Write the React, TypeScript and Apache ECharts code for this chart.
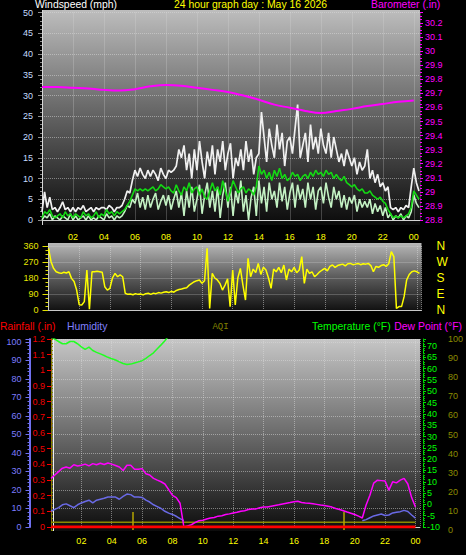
import React, { useEffect, useRef } from 'react';
import * as echarts from 'echarts';

// ---------- texts ----------
const chartTitle = '24 hour graph day : May 16 2026';
const windTitle = 'Windspeed (mph)';
const baroTitle = 'Barometer (.in)';
const rainTitle = 'Rainfall (.in)';
const humTitle = 'Humidity';
const aqiTitle = 'AQI';
const tempTitle = 'Temperature (°F)';
const dewTitle = 'Dew Point (°F)';
const compassLabels: Record<number, string> = { 0: 'N', 90: 'E', 180: 'S', 270: 'W', 360: 'N' };

// ---------- top panel: 10-minute samples from 00:00 ----------
const gustMph = [
  2, 6.8, 3, 5.5, 2.5, 3,
  2, 3, 4.4, 2.5, 3, 2,
  3, 2, 3, 2.5, 3.5, 2,
  2.5, 3, 2, 3, 2.5, 3,
  3, 2.5, 3.5, 3, 2, 3,
  3, 3.5, 5, 7, 6.5, 9.5,
  12, 10.5, 12.5, 11, 10, 12,
  10.5, 12, 11, 9.5, 12.5, 11,
  10, 12, 11.5, 12, 13, 17,
  15, 18, 12, 16, 10, 17,
  12, 19, 14, 10, 16.5, 13,
  18, 11, 17, 14, 19, 12,
  16, 18.5, 10, 15, 13, 17,
  12, 19, 14, 17, 11, 15,
  16, 26, 20, 14, 22, 18,
  15, 23, 17, 21, 13, 19,
  20, 16, 22, 27.8, 15, 18,
  21, 14, 23, 17, 20, 16,
  22, 18, 16, 21, 15, 20,
  17, 14, 16, 13, 17, 15,
  13, 15, 11, 14, 12, 13,
  17, 10, 12, 9, 11, 8,
  9, 7, 8, 3, 2.5, 3,
  2, 3, 2.5, 3.5, 3, 8,
  12.5, 9, 7,
];
const speedMph = [
  0, 1, 0.5, 1.5, 0, 1,
  0.5, 0, 1, 0.5, 0, 1.5,
  0, 1, 0, 0.5, 1, 0,
  1, 0, 0.5, 0, 1, 0.5,
  0, 1.5, 0.5, 1, 0, 1,
  0.5, 1, 2, 3.5, 3, 5,
  4, 6.5, 3, 5.5, 2.5, 6,
  3, 5, 6.5, 2.5, 4.5, 6,
  3.5, 6, 2.5, 5, 7, 3,
  6.5, 1, 7, 3, 8, 2,
  5, 8.5, 1.5, 6, 9, 3,
  7, 2, 8, 0.5, 6, 9,
  3, 8, 1, 7, 4, 9.5,
  2, 6, 0, 5.5, 8, 1,
  9.5, 4, 8, 2, 9, 5,
  7, 3, 9, 4.5, 8, 2.5,
  6.5, 9, 3, 8.5, 5, 7.5,
  3, 9, 5, 8, 2.5, 7,
  8, 4, 9, 5.5, 3, 8,
  5, 7, 3, 6, 2.5, 5.5,
  4, 6, 2, 5, 3, 4.5,
  3, 5, 1.5, 4, 2, 3.5,
  1, 3, 0.5, 1.5, 0, 1,
  0.5, 1.5, 0, 1, 0.5, 2,
  6, 4, 3,
];
const avgMph = [
  0.5, 2, 1.5, 2.5, 1, 0.5,
  1, 1.5, 0.5, 2, 1, 1.5,
  0.5, 1.5, 1, 0.5, 2, 1,
  1.5, 0.5, 1, 2, 0.5, 1.5,
  1, 2.5, 1.5, 2, 1, 2,
  1.5, 2, 2.5, 3.5, 4.5, 6,
  7.5, 7, 7.5, 7, 7.5, 7,
  7.5, 8, 7, 7.5, 8.5, 8,
  7.5, 8, 7, 6.5, 8.5, 7,
  6, 8, 7, 9, 6.5, 7.5,
  8, 6, 7.5, 5.5, 5, 7,
  9, 7, 8, 6, 9.5, 7,
  4.5, 7, 9.5, 8, 6.5, 7.5,
  8, 6.5, 7.5, 7, 6, 8,
  13, 11, 12, 10, 11.5, 9.5,
  12, 10.5, 12.5, 10, 11, 9.5,
  10, 11.5, 10.5, 11, 9.5, 10.5,
  11, 10, 11.5, 10.5, 12, 11,
  11.5, 10.5, 12, 11, 11.5, 10,
  11, 10, 9.5, 10.5, 9, 8.5,
  8, 8.5, 7.5, 7, 7.5, 6.5,
  6.5, 7, 6, 5.5, 5, 5.5,
  4.5, 4, 2.5, 1.5, 0.5, 1,
  0.5, 1, 0.5, 1, 1.5, 3,
  7, 6, 5,
];
// hourly barometer, 00:00 .. 24:00
const baroInHg = [
  29.745, 29.745, 29.74, 29.735, 29.725, 29.72, 29.73, 29.75, 29.76, 29.755,
  29.74, 29.725, 29.71, 29.685, 29.655, 29.62, 29.598, 29.575, 29.56, 29.575,
  29.59, 29.61, 29.625, 29.64, 29.65,
];

// ---------- wind direction: 10-minute samples ----------
const windDirDeg = [
  347, 272, 234, 215, 210, 206,
  212, 208, 215, 178, 160, 112,
  30, 28, 47, 225, 5, 215,
  215, 218, 215, 212, 131, 112,
  122, 180, 206, 187, 197, 187,
  94, 88, 90, 86, 92, 88,
  90, 85, 92, 94, 88, 95,
  92, 98, 95, 100, 103, 98,
  105, 100, 110, 115, 118, 122,
  125, 140, 150, 159, 165, 169,
  150, 165, 347, 9, 206, 180,
  169, 150, 112, 140, 175, 19,
  225, 28, 180, 234, 140, 56,
  291, 187, 230, 210, 262, 200,
  240, 225, 180, 122, 230, 215,
  240, 210, 253, 169, 230, 215,
  240, 210, 225, 300, 150, 230,
  206, 215, 187, 200, 215, 225,
  234, 220, 245, 253, 240, 250,
  255, 258, 248, 260, 262, 255,
  258, 262, 255, 260, 258, 262,
  250, 215, 245, 240, 250, 255,
  245, 260, 328, 300, 9, 19,
  19, 75, 169, 200, 215, 220,
  215, 206,
];

// ---------- bottom panel: 15-minute samples ----------
const tempF = [
  74, 73, 72, 71, 71, 72, 72, 71,
  69.6, 68.5, 69.5, 68, 67.2, 66.5, 65.8, 65,
  64.4, 63.8, 63, 62.3, 61.8, 62, 62.5, 63,
  63.5, 64.5, 65.8, 67, 68.8, 70.5, 72.3, 74.5,
];
const dewPointF = [
  11.5, 13, 14.5, 16, 16.5, 16, 17.5, 17,
  17.3, 17.8, 17, 18, 17.5, 18.2, 17.6, 18.3,
  17.8, 17.2, 16.5, 15, 17.3, 17.3, 15.5, 15.5,
  15.8, 13.5, 13, 11.5, 10.7, 10, 9, 6.5,
  4, 3, 0.5, -10, -9.5, -9, -8, -7.2,
  -7, -6.5, -6, -5.8, -5.2, -5, -4.5, -4.2,
  -3.8, -3.5, -3, -2.8, -2.3, -2, -2, -1.5,
  -1.2, -1.2, -0.8, -0.5, -0.2, 0.2, 0.5, 0.8,
  1.2, 1.4, 0.8, 0.6, 0.5, 0.3, 0, -0.3,
  -0.5, -0.8, -1.2, -1.8, -2.3, -2.8, -3.4, -3.9,
  -4.5, -5.2, -6, -0.3, 4, 9.4, 10.7, 10.5,
  10.3, 6.3, 10, 9.5, 10.7, 11.5, 9, 3,
  -1.2,
];
const humidityPct = [
  8.5, 9.5, 10.5, 12, 12.5, 11.5, 10.5, 12,
  13, 13.8, 14.5, 13, 14.5, 15, 15.5, 16.2,
  16.2, 16.2, 15, 16.5, 17.8, 17.5, 16.2, 16.2,
  16, 14.5, 13.5, 12, 11, 10, 8.5, 7.5,
  6.8, 5.8, 4.5, 3.4, null, null, null, null,
  null, null, null, null, null, null, null, null,
  null, null, null, null, null, null, null, null,
  null, null, null, null, null, null, null, null,
  null, null, null, null, null, null, null, null,
  null, null, null, null, null, null, null, null,
  null, null, 3.4, 4, 5, 6, 6.5, 7,
  6.2, 6.5, 7.6, 8, 8.3, 9, 8.4, 6.5,
  4.8,
];
// hourly
const rainIn = [0, 0, 0, 0, 0, 0, 0, 0, 0, 0, 0, 0, 0, 0, 0, 0, 0, 0, 0, 0, 0, 0, 0, 0, 0];
const aqiIndex = [4, 4, 4, 4, 4, 4, 4, 4, 4, 4, 4, 4, 4, 4, 4, 4, 4, 4, 4, 4, 4, 4, 4, 4, 4];
const sunEventHours = [5.4, 19.3];
const sunMarkAqi = 9.4;

// ---------- helpers ----------
const FONT = "'Liberation Sans', Arial, sans-serif";
const every = (arr: (number | null)[], step: number) => arr.map((v, i) => [i * step, v]);
const pad2 = (n: number) => (n < 10 ? '0' : '') + n;
const hourLabel = (v: number) => {
  const r = Math.round(v);
  if (Math.abs(v - r) > 1e-6 || r <= 0 || r > 24 || r % 2) return '';
  return pad2(r % 24);
};
const multipleLabel = (step: number, dec: number) => (v: number) => {
  const k = Math.round(v / step);
  if (Math.abs(v / step - k) > 1e-6) return '';
  return String(Number((k * step).toFixed(dec)));
};
const dotted = { show: true, lineStyle: { color: 'rgba(220,220,220,0.5)', type: 'dotted' as const, width: 1 } };
const grad = (stops: [number, string][]) =>
  new echarts.graphic.LinearGradient(0, 0, 0, 1, stops.map(([offset, color]) => ({ offset, color })));

function buildOption(): any {
  const line = (name: string, data: any[], xi: number, yi: number, color: string, width: number, z: number, extra: any = {}) => ({
    type: 'line', name, data, xAxisIndex: xi, yAxisIndex: yi, showSymbol: false, symbol: 'none',
    lineStyle: { color, width }, itemStyle: { color }, z, clip: true, ...extra,
  });

  const text = (t: string, x: number, y: number, fill: string, size: number, align = 'left', family = FONT) => ({
    type: 'text', x, y, z: 20, silent: true,
    style: { text: t, fill, fontSize: size, fontFamily: family, textAlign: align, textVerticalAlign: 'middle' },
  });
  const vline = (x: number, y1: number, y2: number, color: string) => ({
    type: 'line', z: 1, silent: true, shape: { x1: x, y1, x2: x, y2 }, style: { stroke: color, lineWidth: 1 },
  });

  return {
    animation: false,
    backgroundColor: '#000',
    grid: [
      { left: 42, top: 12.5, width: 378, height: 207.5 },
      { left: 48.5, top: 246, width: 373, height: 64 },
      { left: 51, top: 339, width: 369, height: 188 },
      { left: 51, top: 339, width: 369, height: 191 },
    ],
    xAxis: [
      {
        type: 'value', gridIndex: 0, min: 0, max: 24.4, interval: 2, offset: 5,
        axisLine: { show: true, lineStyle: { color: '#d4d4d4', width: 1 } },
        axisTick: { show: false }, splitLine: dotted,
        axisLabel: { color: '#ffff00', fontSize: 9, fontFamily: FONT, margin: 7, formatter: hourLabel },
      },
      {
        type: 'value', gridIndex: 1, min: 0, max: 24.3, interval: 2, offset: 1,
        axisLine: { show: true, lineStyle: { color: '#c8c8c8', width: 1 } },
        axisTick: { show: false }, splitLine: dotted, axisLabel: { show: false },
      },
      {
        type: 'value', gridIndex: 2, min: 0, max: 24.3, interval: 2, offset: 4,
        axisLine: { show: true, lineStyle: { color: '#d4d4d4', width: 1 } },
        axisTick: { show: false }, splitLine: dotted,
        axisLabel: { color: '#ffff00', fontSize: 9, fontFamily: FONT, margin: 5, formatter: hourLabel },
      },
      { type: 'value', gridIndex: 3, min: 0, max: 24.3, interval: 2, show: false },
    ],
    yAxis: [
      {
        type: 'value', gridIndex: 0, position: 'left', min: 0, max: 50, interval: 5,
        axisLine: { show: false },
        axisTick: { show: true, length: 4, lineStyle: { color: '#8c8c8c' } },
        minorTick: { show: true, splitNumber: 5, length: 2, lineStyle: { color: '#8c8c8c' } },
        axisLabel: { color: '#c4dcff', fontSize: 9, fontFamily: FONT, margin: 9 },
        splitLine: dotted,
      },
      {
        type: 'value', gridIndex: 0, position: 'right', min: 28.8, max: 30.275, interval: 0.1,
        axisLine: { show: false },
        axisTick: { show: true, length: 3, lineStyle: { color: '#ff00ff' } },
        minorTick: { show: true, splitNumber: 4, length: 2, lineStyle: { color: '#ff00ff' } },
        axisLabel: { color: '#ff00ff', fontSize: 9, fontFamily: FONT, margin: 5, formatter: multipleLabel(0.1, 1) },
        splitLine: { show: false },
      },
      {
        type: 'value', gridIndex: 1, position: 'left', min: 0, max: 360, interval: 90,
        axisLine: { show: false },
        axisTick: { show: true, length: 6, lineStyle: { color: '#e0e000' } },
        minorTick: { show: true, splitNumber: 4, length: 3, lineStyle: { color: '#e0e000' } },
        axisLabel: { color: '#e6e600', fontSize: 9, fontFamily: FONT, margin: 10 },
        splitLine: dotted,
      },
      {
        type: 'value', gridIndex: 1, position: 'right', min: 0, max: 360, interval: 90, offset: 6,
        axisLine: { show: false }, axisTick: { show: false }, splitLine: { show: false },
        axisLabel: { color: '#ffff00', fontSize: 12, fontFamily: FONT, margin: 9, formatter: (v: number) => compassLabels[v] ?? '' },
      },
      {
        type: 'value', gridIndex: 2, position: 'left', min: 0, max: 1.2, interval: 0.1,
        axisLine: { show: true, lineStyle: { color: '#ff0000', type: 'dashed', width: 1 } },
        axisTick: { show: true, length: 4, lineStyle: { color: '#ff0000' } },
        axisLabel: { color: '#f00000', fontSize: 9, fontFamily: FONT, margin: 6, formatter: multipleLabel(0.1, 1) },
        splitLine: { show: false },
      },
      {
        type: 'value', gridIndex: 2, position: 'left', offset: 21.5, min: 0, max: 101.6, interval: 10,
        axisLine: { show: true, lineStyle: { color: '#7070f0', width: 2 } },
        axisTick: { show: true, length: 4, lineStyle: { color: '#7070f0' } },
        minorTick: { show: true, splitNumber: 5, length: 2, lineStyle: { color: '#7070f0' } },
        axisLabel: { color: '#7c7cff', fontSize: 9, fontFamily: FONT, margin: 8, formatter: multipleLabel(10, 0) },
        splitLine: dotted,
      },
      {
        type: 'value', gridIndex: 2, position: 'right', offset: 3, min: -10, max: 73.1, interval: 5,
        axisLine: { show: true, lineStyle: { color: '#00e000', type: 'dashed', width: 1 } },
        axisTick: { show: true, length: 3, lineStyle: { color: '#00e000' } },
        minorTick: { show: true, splitNumber: 5, length: 2, lineStyle: { color: '#00c000' } },
        axisLabel: { color: '#00ff00', fontSize: 9, fontFamily: FONT, margin: 4, formatter: multipleLabel(5, 0) },
        splitLine: { show: false },
      },
      {
        type: 'value', gridIndex: 3, position: 'right', offset: 24, min: 0, max: 100, interval: 10,
        axisLine: { show: true, lineStyle: { color: '#808000', type: 'dotted', width: 1 } },
        axisTick: { show: true, length: 3, lineStyle: { color: '#808000' } },
        minorTick: { show: true, splitNumber: 5, length: 2, lineStyle: { color: '#808000' } },
        axisLabel: { color: '#8c8c00', fontSize: 9, fontFamily: FONT, margin: 4 },
        splitLine: { show: false },
      },
    ],
    series: [
      line('Gust', every(gustMph, 1 / 6), 0, 0, '#f0f0f0', 1.7, 2),
      line('Speed', every(speedMph, 1 / 6), 0, 0, '#c4f2c4', 1.6, 3),
      line('Average', every(avgMph, 1 / 6), 0, 0, '#14d814', 1.6, 4),
      line('Barometer', every(baroInHg, 1), 0, 1, '#ff00ff', 2, 5, { smooth: 0.4 }),
      line('Direction', every(windDirDeg, 1 / 6), 1, 2, '#ffff00', 1.5, 3),
      line('Humidity', every(humidityPct, 0.25), 2, 5, '#6a6ae6', 1.5, 3, { connectNulls: false }),
      line('Temperature', every(tempF, 0.25), 2, 6, '#22ff22', 1.5, 4),
      line('Dew Point', every(dewPointF, 0.25), 2, 6, '#ff00ff', 1.5, 4),
      line('AQI', every(aqiIndex, 1), 3, 7, '#8a8a00', 1.5, 3, {
        markLine: {
          symbol: 'none', silent: true, label: { show: false },
          lineStyle: { color: '#b4a400', width: 1.5, type: 'solid' },
          data: sunEventHours.map((t) => [{ coord: [t, 0] }, { coord: [t, sunMarkAqi] }]),
        },
      }),
      line('Rainfall', every(rainIn, 1), 2, 4, '#ff0000', 3, 6),
    ],
    graphic: [
      { type: 'rect', z: -10, silent: true, shape: { x: 42, y: 10, width: 378, height: 215 },
        style: { fill: grad([[0, '#bdbdbd'], [0.45, '#6a6a6a'], [1, '#0a0a0a']]) } },
      { type: 'rect', z: -10, silent: true, shape: { x: 48.5, y: 243, width: 373, height: 68 },
        style: { fill: grad([[0, '#b8b8b8'], [0.5, '#5c5c5c'], [1, '#101010']]) } },
      { type: 'rect', z: -10, silent: true, shape: { x: 51, y: 339, width: 369, height: 192 },
        style: { fill: grad([[0, '#c6c6c6'], [0.5, '#6a6a6a'], [1, '#0c0c0c']]) } },
      vline(42.5, 10, 225, '#d8d8d8'),
      vline(48.5, 243, 311, '#c8c8c8'),
      vline(53.5, 339, 531, '#f0f0f0'),
      text(windTitle, 35, 4.5, '#ffffff', 10.4),
      text(chartTitle, 250.5, 4.5, '#ffff00', 10.4, 'center'),
      text(baroTitle, 371, 4.5, '#ff00ff', 10.4),
      text(rainTitle, 0, 326.5, '#ff0000', 10.4),
      text(humTitle, 67, 326.5, '#8080ff', 10.4),
      text(aqiTitle, 220.5, 326.5, '#808000', 9, 'center', "'Liberation Mono', monospace"),
      text(tempTitle, 312, 326.5, '#00ff00', 10.4),
      text(dewTitle, 462, 326.5, '#ff00ff', 10.4, 'right'),
    ],
  };
}

export default function App() {
  const ref = useRef<HTMLDivElement>(null);
  useEffect(() => {
    document.body.style.margin = '0';
    document.body.style.background = '#000';
    const chart = echarts.init(ref.current!, undefined, { renderer: 'svg' });
    chart.setOption(buildOption());
    return () => chart.dispose();
  }, []);
  return <div ref={ref} style={{ width: 466, height: 555, background: '#000' }} />;
}
